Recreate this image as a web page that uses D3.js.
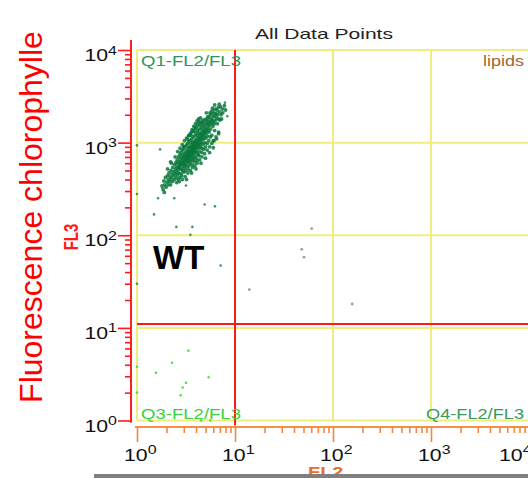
<!DOCTYPE html>
<html>
<head>
<meta charset="utf-8">
<script src="https://cdn.jsdelivr.net/npm/d3@7"></script>
<style>
  html, body { margin: 0; padding: 0; background: #fff; }
  svg { display: block; font-family: "Liberation Sans", Arial, sans-serif; }
</style>
</head>
<body>
<svg id="chart" width="528" height="478"></svg>
<script>
// ---- data ----------------------------------------------------------------
const decades = [0, 1, 2, 3, 4];
const gateFL2 = 10;      // vertical gate on FL2
const gateFL3 = 11;      // horizontal gate on FL3
const title = "All Data Points";
const yTitle = "Fluorescence chlorophylle";
const sampleName = "WT";

// main population in Q1, [FL2, FL3]
const clusterQ1 = [
  [1.8,340],[1.85,310],[1.88,385],[1.92,350],[1.95,420],[1.98,330],[2.02,375],[2.05,440],[2.08,350],[2.1,400],
  [2.12,470],[2.15,380],[2.18,430],[2.2,350],[2.22,500],[2.25,410],[2.28,460],[2.3,380],[2.32,540],[2.35,440],
  [2.38,490],[2.4,400],[2.42,580],[2.45,460],[2.48,520],[2.5,420],[2.5,610],[2.05,520],[1.9,290],[2.25,600],
  [2.52,480],[2.54,370],[2.55,550],[2.57,650],[2.58,450],[2.6,510],[2.62,600],[2.63,400],[2.65,700],[2.66,540],
  [2.68,470],[2.7,620],[2.71,560],[2.73,420],[2.74,740],[2.76,520],[2.77,660],[2.79,580],[2.8,460],[2.8,780],
  [2.82,610],[2.83,520],[2.85,690],[2.86,440],[2.88,580],[2.89,820],[2.9,640],[2.92,500],[2.93,730],[2.95,600],
  [2.96,560],[2.98,860],[3.0,680],[3.0,480],[3.02,620],[3.03,760],[3.05,540],[3.06,700],[3.08,900],[3.1,640],[3.1,580],
  [3.12,720],[3.13,500],[3.15,800],[3.16,660],[3.18,600],[3.19,940],[3.2,700],[3.22,560],[3.23,760],[3.25,840],
  [3.26,640],[3.28,720],[3.29,980],[3.3,520],[3.32,680],[3.33,780],[3.35,880],[3.36,620],[3.38,740],[3.4,1020],[3.4,700],[3.4,560],
  [3.42,800],[3.43,660],[3.45,900],[3.46,740],[3.48,600],[3.5,820],[3.51,1060],[3.53,700],[3.54,780],[3.56,950],
  [3.57,640],[3.59,860],[3.6,740],[3.62,1100],[3.63,800],[3.65,580],[3.66,900],[3.68,700],[3.69,1000],[3.7,820],[3.7,640],
  [3.72,880],[3.74,760],[3.75,1150],[3.77,940],[3.78,680],[3.8,850],[3.82,1020],[3.83,780],[3.85,900],[3.86,620],
  [3.88,980],[3.9,1200],[3.91,840],[3.93,720],[3.95,1060],[3.96,920],[3.98,800],[4.0,1000],[4.0,680],[4.0,1280],
  [4.03,900],[4.05,1100],[4.07,780],[4.1,960],[4.12,1200],[4.14,860],[4.16,1040],[4.18,1340],[4.2,940],[4.22,740],
  [4.24,1120],[4.26,1000],[4.28,1260],[4.3,880],[4.32,1060],[4.34,800],[4.36,1400],[4.38,1150],[4.4,960],
  [4.43,1080],[4.45,1250],[4.47,900],[4.5,1150],[4.52,1450],[4.55,1000],[4.57,1200],[4.6,860],[4.62,1320],[4.65,1080],
  [4.67,1550],[4.7,1200],[4.72,960],[4.75,1380],[4.78,1100],[4.8,1260],
  [4.84,1500],[4.87,1150],[4.9,1320],[4.93,1000],[4.96,1650],[5.0,1250],[5.03,1420],[5.06,1120],[5.1,1560],[5.13,1300],
  [5.16,1750],[5.2,1400],[5.23,1180],[5.27,1600],[5.3,1350],[5.34,1850],[5.38,1480],
  [5.42,1700],[5.46,1300],[5.5,1550],[5.55,1950],[5.6,1650],[5.65,1400],[5.7,1800],[5.75,2050],[5.8,1600],[5.85,1750],
  [5.9,2200],[5.95,1500],[6.0,1900],[6.05,1700],[6.1,2100],[6.15,1600],[6.2,1950],[6.3,2300],[6.35,1750],[6.4,2050],
  [6.5,1850],[6.55,2250],[6.65,2000],[6.75,2400],[6.85,1800],[6.95,2150],[7.1,2450],[7.2,2000],[7.4,2300],[6.6,1600],[7.0,1750],
  [7.5,2100],[7.8,2500],[7.3,1800],[6.9,2600],[8.0,2250],
  [3.6,1300],[3.9,1450],[4.2,1600],[4.45,1850],[4.7,1750],[4.1,1500],[3.8,1350],[5.1,2100],[4.5,1650],[3.4,1200],[4.3,1700],
  [4.3,720],[4.6,780],[5.0,900],[5.4,1050],[5.8,1200],[4.8,850],[5.2,980],[6.2,1350],[4.1,640],[5.6,1150],[6.5,1100],[6.8,1250],[6.0,1050],
  // upper-left flank
  [2.6,800],[2.75,870],[2.9,950],[3.05,1050],[3.2,1120],[3.35,1180],[3.5,1250],[3.65,1380],[3.8,1500],[3.95,1600],
  [4.1,1720],[4.25,1800],[3.0,900],[3.3,1080],[3.55,1200],[3.75,1320],[4.0,1420],[4.35,1550],[4.65,1650],[4.95,1780],
  [5.25,1900],[5.55,2100],[5.9,2350],[6.2,2550],[2.45,700],[2.2,620],
  // lower-right flank
  [2.9,400],[3.1,430],[3.3,470],[3.5,500],[3.7,540],[3.9,560],[4.1,600],[4.35,650],[4.6,700],[4.9,760],
  [5.2,830],[5.5,900],[5.8,980],[6.1,1050],[6.4,1150],[6.8,1300],[3.2,400],[3.6,470],[4.0,520],[4.5,600],
  [5.0,680],[5.5,780],[6.0,880],[2.7,380]
];

// isolated events in Q1
const scatterQ1 = [
  [1.82,324],[1.64,251],[2.4,251],[1.49,168],[4.9,215],[6.25,205],[2.52,123],[3.67,123],[3.5,101],[7.14,47.2],
  [1.0,29.9],[1.0,279],[1.0,935],[1.72,845],[3.16,344],[8.35,1930],[7.6,2340],[7.9,2700],[5.69,2210]
];

// events in Q3
const scatterQ3 = [
  [3.34,5.67],[2.28,4.2],[1.56,3.27],[5.39,2.93],[3.16,2.55],[2.93,2.27],[2.79,1.87],[1.0,3.8],[1.0,2.0],[4.5,1.0],[5.6,1.0]
];

// events right of the FL2 gate
const scatterRight = [
  [60.6,118],[48,70.5],[50.6,58],[14,25.9],[157,18.1]
];

const quadrantLabels = [
  { text: "Q1-FL2/FL3", fx: 1,     fy: 10000, side: "start", color: "#2e9457", len: 100 },
  { text: "Q3-FL2/FL3", fx: 1,     fy: 1,     side: "start", color: "#3bd13b", len: 100 },
  { text: "Q4-FL2/FL3", fx: 10000, fy: 1,     side: "end",   color: "#3a9a5a", len: 98 },
  { text: "lipids",     fx: 10000, fy: 10000, side: "end",   color: "#a5652f", len: 41 }
];

// ---- layout --------------------------------------------------------------
const W = 528, H = 478;
const sx = 1.33;   // horizontal stretch of the instrument text
const svg = d3.select("#chart");

const x = d3.scaleLog().domain([1, 10000]).range([137, 529]);
const y = d3.scaleLog().domain([1, 10000]).range([420.5, 50]);

const major = decades.map(d => Math.pow(10, d));
const minor = [];
decades.slice(0, 4).forEach(d => { for (let k = 2; k <= 9; k++) minor.push(k * Math.pow(10, d)); });

const yellow = "#eeee80", red = "#ff1a1a", orange = "#f6873f";

// grid
const grid = svg.append("g");
grid.selectAll("line.v").data(major.slice(0, 4)).join("line")
  .attr("x1", d => x(d)).attr("x2", d => x(d))
  .attr("y1", y(10000)).attr("y2", y(1))
  .attr("stroke", yellow).attr("stroke-width", 2);
grid.selectAll("line.h").data(major).join("line")
  .attr("x1", x(1)).attr("x2", W)
  .attr("y1", d => y(d)).attr("y2", d => y(d))
  .attr("stroke", yellow).attr("stroke-width", 2);

// gates
svg.append("line")
  .attr("x1", x(gateFL2)).attr("x2", x(gateFL2))
  .attr("y1", y(10000)).attr("y2", y(1) + 5)
  .attr("stroke", red).attr("stroke-width", 2);
svg.append("line")
  .attr("x1", x(1)).attr("x2", W)
  .attr("y1", y(gateFL3)).attr("y2", y(gateFL3))
  .attr("stroke", red).attr("stroke-width", 2);

// events
function dots(data, color, r, op) {
  svg.append("g").selectAll("circle").data(data).join("circle")
    .attr("cx", d => x(d[0])).attr("cy", d => y(d[1]))
    .attr("r", r).attr("fill", color).attr("fill-opacity", op);
}
dots(clusterQ1, "#08783b", 1.9, 0.85);
dots(scatterQ1, "#2a8a57", 1.3, 0.9);
dots(scatterQ3, "#3ddc3d", 1.3, 0.9);
dots(scatterRight, "#b48c6c", 1.4, 0.9);

// y axis (FL3)
const yAxisG = svg.append("g").attr("transform", "translate(131,0)");
yAxisG.append("g").call(d3.axisLeft(y).tickValues(minor).tickSize(6).tickSizeOuter(0).tickFormat(""));
yAxisG.append("g").call(d3.axisLeft(y).tickValues(major).tickSize(13).tickSizeOuter(0).tickFormat(""));
yAxisG.selectAll("path.domain").attr("d", `M0,${y(10000) - 10}V${y(1) + 2}`);
yAxisG.selectAll("path,line").attr("stroke", red).attr("stroke-width", 1.6);

// x axis (FL2)
const xAxisG = svg.append("g").attr("transform", "translate(0,427)");
xAxisG.append("g").call(d3.axisBottom(x).tickValues(minor).tickSize(6).tickSizeOuter(0).tickFormat(""));
xAxisG.append("g").call(d3.axisBottom(x).tickValues(major).tickSize(15).tickSizeOuter(0).tickFormat(""));
xAxisG.selectAll("path.domain").attr("d", `M${x(1) - 2},0H${W}`);
xAxisG.selectAll("path,line").attr("stroke", orange).attr("stroke-width", 1.6);

// power-of-ten labels
function powLabel(g, d, anchor, supDy) {
  const t = g.append("text").attr("text-anchor", anchor).attr("fill", "#111").attr("font-size", 16);
  t.append("tspan").text("10");
  t.append("tspan").attr("dy", supDy).attr("font-size", 12).text(d);
}
decades.forEach(d => {
  const g = svg.append("g").attr("transform", `translate(117,${y(Math.pow(10, d)) + 11}) scale(${sx},1)`);
  powLabel(g, d, "end", -6.5);
});
decades.forEach(d => {
  const px = Math.min(x(Math.pow(10, d)) - 13, W - 29);
  const g = svg.append("g").attr("transform", `translate(${px},461) scale(${sx},1)`);
  powLabel(g, d, "start", -7);
});

// quadrant labels
quadrantLabels.forEach(q => {
  const top = q.fy > 1;
  const px = q.side === "start" ? x(q.fx) + 4 : W - 4;
  const py = top ? y(q.fy) + 16 : y(q.fy) - 2;
  svg.append("text")
    .attr("x", q.side === "start" ? px : px - q.len).attr("y", py)
    .attr("font-size", 14).attr("fill", q.color)
    .attr("textLength", q.len).attr("lengthAdjust", "spacingAndGlyphs")
    .text(q.text);
});

// title
svg.append("text").attr("x", 255).attr("y", 39)
  .attr("font-size", 15).attr("fill", "#222")
  .attr("textLength", 138).attr("lengthAdjust", "spacingAndGlyphs")
  .text(title);

// axis names
svg.append("g").attr("transform", `translate(78,237) scale(${sx},1) rotate(-90)`)
  .append("text").attr("text-anchor", "middle")
  .attr("font-size", 15).attr("font-weight", "bold").attr("fill", red).text("FL3");
svg.append("g").attr("transform", `translate(308,477) scale(${sx},1)`)
  .append("text").attr("font-size", 15).attr("font-weight", "bold").attr("fill", "#f26a2a").text("FL2");

svg.append("text")
  .attr("transform", "translate(41.5,217) rotate(-90)")
  .attr("text-anchor", "middle").attr("font-size", 32).attr("fill", "#ff0000")
  .text(yTitle);

svg.append("text").attr("x", 153).attr("y", 269)
  .attr("font-size", 33).attr("font-weight", "bold").attr("fill", "#000")
  .text(sampleName);

// bottom bar
svg.append("rect").attr("x", 94).attr("y", 474).attr("width", W - 94).attr("height", 4).attr("fill", "#7f7f7f");
</script>
</body>
</html>
